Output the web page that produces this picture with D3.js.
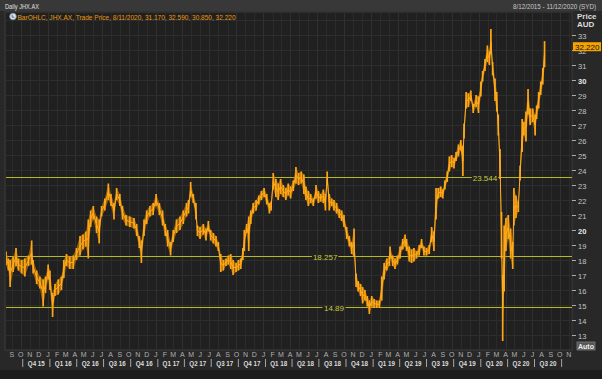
<!DOCTYPE html>
<html><head><meta charset="utf-8">
<script src="https://cdn.jsdelivr.net/npm/d3@7"></script>
<style>html,body{margin:0;padding:0;background:#262626;}svg{display:block;font-family:"Liberation Sans",Arial,sans-serif;}</style>
</head><body>
<svg id="c" width="602" height="379"></svg>
<script>
// ---- data ----
const priceDates = ["2015-08-12","2015-08-20","2015-08-26","2015-09-05","2015-09-15","2015-09-23","2015-10-04","2015-10-15","2015-10-27","2015-11-07","2015-11-12","2015-11-24","2015-12-05","2015-12-16","2015-12-24","2016-01-02","2016-01-08","2016-01-17","2016-01-25","2016-02-05","2016-02-16","2016-02-24","2016-03-04","2016-03-15","2016-03-27","2016-04-07","2016-04-19","2016-04-29","2016-05-09","2016-05-17","2016-05-25","2016-06-03","2016-06-14","2016-06-23","2016-07-01","2016-07-12","2016-07-24","2016-08-02","2016-08-12","2016-08-21","2016-09-01","2016-09-10","2016-09-22","2016-10-05","2016-10-19","2016-10-28","2016-11-06","2016-11-13","2016-11-22","2016-12-01","2016-12-12","2016-12-23","2017-01-02","2017-01-13","2017-01-24","2017-02-02","2017-02-10","2017-02-20","2017-03-01","2017-03-12","2017-03-24","2017-04-04","2017-04-15","2017-04-22","2017-04-29","2017-05-08","2017-05-17","2017-05-22","2017-05-31","2017-06-11","2017-06-20","2017-06-28","2017-07-06","2017-07-15","2017-07-24","2017-08-01","2017-08-09","2017-08-18","2017-08-27","2017-09-04","2017-09-12","2017-09-20","2017-09-30","2017-10-08","2017-10-16","2017-10-23","2017-10-28","2017-11-05","2017-11-12","2017-11-19","2017-11-27","2017-12-07","2017-12-16","2017-12-25","2018-01-03","2018-01-12","2018-01-21","2018-01-27","2018-02-03","2018-02-12","2018-02-20","2018-02-28","2018-03-09","2018-03-18","2018-03-26","2018-04-03","2018-04-12","2018-04-21","2018-04-30","2018-05-09","2018-05-18","2018-05-25","2018-06-02","2018-06-10","2018-06-19","2018-06-28","2018-07-06","2018-07-14","2018-07-23","2018-07-30","2018-08-05","2018-08-12","2018-08-20","2018-08-28","2018-09-06","2018-09-15","2018-09-23","2018-10-01","2018-10-10","2018-10-19","2018-10-27","2018-11-04","2018-11-11","2018-11-18","2018-11-26","2018-12-03","2018-12-11","2018-12-19","2018-12-26","2019-01-03","2019-01-11","2019-01-20","2019-01-29","2019-02-06","2019-02-14","2019-02-23","2019-03-04","2019-03-06","2019-03-15","2019-03-23","2019-03-31","2019-04-09","2019-04-18","2019-04-26","2019-05-01","2019-05-10","2019-05-18","2019-05-26","2019-06-04","2019-06-13","2019-06-21","2019-06-29","2019-07-08","2019-07-17","2019-07-25","2019-08-02","2019-08-09","2019-08-17","2019-08-25","2019-09-01","2019-09-08","2019-09-16","2019-09-23","2019-10-01","2019-10-09","2019-10-16","2019-10-24","2019-11-01","2019-11-08","2019-11-12","2019-11-19","2019-11-27","2019-12-05","2019-12-13","2019-12-23","2019-12-31","2020-01-08","2020-01-14","2020-01-22","2020-01-30","2020-02-06","2020-02-11","2020-02-17","2020-02-25","2020-03-02","2020-03-07","2020-03-13","2020-03-18","2020-03-22","2020-03-27","2020-04-02","2020-04-10","2020-04-18","2020-04-25","2020-04-29","2020-05-06","2020-05-14","2020-05-20","2020-05-27","2020-06-02","2020-06-09","2020-06-16","2020-06-23","2020-07-02","2020-07-10","2020-07-15","2020-07-22","2020-07-29","2020-08-05","2020-08-11"];
const priceHigh = [18.56,18.1,18.0,18.2,18.8,18.1,18.0,18.1,18.3,19.3,18.0,17.3,16.9,16.7,16.9,17.7,17.3,15.8,16.4,16.7,16.9,18.0,18.4,18.2,18.3,18.8,19.6,19.7,19.9,20.7,21.3,21.6,20.9,20.7,21.6,22.1,23.1,22.4,21.8,22.8,22.4,21.6,21.0,20.9,20.8,20.4,19.6,19.3,20.7,21.3,21.6,21.8,22.4,21.8,21.3,20.4,20.0,19.2,20.0,20.7,20.9,21.3,21.8,22.0,23.2,22.4,21.8,20.3,20.2,20.4,20.1,20.6,20.0,19.8,19.6,19.2,18.4,18.0,18.1,18.3,18.4,18.0,17.8,18.0,18.1,18.8,20.0,20.4,20.9,21.3,21.8,22.0,22.3,22.6,22.8,22.4,21.8,21.9,23.8,23.4,23.1,23.4,23.0,22.8,23.1,22.9,23.3,24.2,23.8,23.9,23.7,22.9,22.6,22.4,22.1,23.0,22.6,22.4,22.7,22.4,23.9,22.4,22.1,22.0,21.8,21.4,21.3,21.0,20.2,19.6,19.2,20.1,17.1,16.6,16.4,16.2,16.0,15.6,15.3,15.6,15.4,15.3,15.3,16.9,17.8,18.1,18.2,18.9,18.3,18.1,18.3,18.9,19.4,19.7,19.4,18.9,18.7,18.8,18.6,19.0,19.4,18.9,18.8,19.0,20.2,19.9,22.8,22.8,22.9,22.7,23.3,23.9,24.9,25.0,24.8,25.2,25.7,26.0,25.6,27.1,29.2,29.1,29.3,28.4,29.0,28.9,29.9,30.6,31.4,32.3,31.9,33.4,31.2,30.1,29.2,27.7,25.4,21.2,17.0,20.3,20.8,21.0,20.1,19.2,22.8,22.3,21.9,24.3,27.4,27.2,27.9,29.4,28.1,28.1,27.7,28.3,29.2,29.9,30.8,32.59];
const priceLow = [17.67,17.3,16.2,17.2,17.6,17.3,17.1,16.9,17.6,17.7,17.1,16.4,16.1,14.9,15.8,16.7,16.0,14.2,15.6,15.7,16.0,16.8,17.6,17.4,17.4,18.0,18.3,18.7,18.9,18.1,20.2,20.7,19.8,19.1,20.9,21.3,22.0,21.6,20.7,22.0,21.6,20.7,20.3,20.2,20.1,19.6,18.8,17.8,19.6,20.4,20.9,21.0,21.6,21.0,20.3,19.6,18.9,18.3,19.2,19.8,20.0,20.4,20.9,21.1,22.2,21.8,20.7,19.6,19.4,19.7,19.3,19.9,19.3,19.1,18.9,18.6,17.2,17.3,17.6,17.7,17.4,17.0,17.2,17.3,17.4,18.0,18.6,19.8,18.6,20.4,21.1,21.3,21.7,22.0,22.2,21.7,21.1,21.3,22.7,22.2,22.0,22.4,22.2,22.0,22.3,22.1,22.6,23.1,23.0,23.1,22.4,22.0,21.6,21.8,21.6,22.1,21.8,21.9,21.8,21.3,23.0,21.3,21.6,21.3,21.1,20.8,20.6,20.2,19.4,18.9,18.4,18.2,16.2,15.9,15.6,15.1,15.3,14.9,14.4,14.9,14.8,14.8,14.8,15.3,16.7,17.3,17.6,18.1,17.6,17.4,17.7,18.1,18.7,18.9,18.6,17.9,17.8,17.9,18.1,18.3,18.8,18.3,18.3,18.4,19.2,18.6,20.7,22.1,22.2,22.1,22.7,23.2,23.9,24.2,24.1,24.6,24.9,25.3,23.6,26.1,28.1,28.2,28.6,27.8,28.2,27.8,28.9,29.9,30.6,31.2,31.0,31.7,30.3,28.6,27.9,26.3,23.4,18.1,12.6,15.9,18.6,19.4,18.1,17.4,20.3,20.8,21.2,23.3,25.2,26.3,25.9,27.7,27.0,27.2,26.3,27.4,28.1,29.0,29.7,30.85];
const levelValues = [23.544, 18.257, 14.89];
const levelLabels = ["23.544", "18.257", "14.89"];
const levelLabelDates = ["2020-01-22", "2018-07-29", "2018-08-28"];
const yTicks = [13,14,15,16,17,18,19,20,21,22,23,24,25,26,27,28,29,30,31,32,33];
const monthLetters = ["J","F","M","A","M","J","J","A","S","O","N","D"];
const quarterNames = ["Q1","Q2","Q3","Q4"];
const lastPrice = 32.220;
const titleText = "Daily JHX.AX";
const rangeText = "8/12/2015 - 11/12/2020 (SYD)";
const legendText = "BarOHLC, JHX.AX, Trade Price, 8/11/2020, 31.170, 32.590, 30.850, 32.220";

// ---- drawing ----
const parse = d3.timeParse("%Y-%m-%d");
const data = priceDates.map((d,i)=>({date:parse(d), high:priceHigh[i], low:priceLow[i]}));
const svg = d3.select("#c");
const P = {x0:5, x1:572, y0:12, y1:350};
const x = d3.scaleTime().domain([new Date(2015,7,12), new Date(2020,10,12)]).range([6,572]);
const y = d3.scaleLinear().domain([13,33]).range([335,35]);

svg.append("rect").attr("width",602).attr("height",379).attr("fill","#282828");
svg.append("rect").attr("width",602).attr("height",11).attr("fill","#383838");
svg.append("rect").attr("x",0).attr("y",370).attr("width",602).attr("height",9).attr("fill","#1c1c1c");
svg.append("rect").attr("x",P.x0).attr("y",P.y0).attr("width",P.x1-P.x0).attr("height",P.y1-P.y0)
  .attr("fill","#202020").attr("stroke","#3c3c3c").attr("stroke-width",1);

svg.append("defs").append("clipPath").attr("id","clip").append("rect")
  .attr("x",P.x0+1).attr("y",P.y0+1).attr("width",P.x1-P.x0-1).attr("height",P.y1-P.y0-1);

const grid = svg.append("g").attr("clip-path","url(#clip)");
const months = d3.timeMonth.range(new Date(2015,8,1), new Date(2020,10,13));
grid.selectAll("line.v").data(months).join("line")
  .attr("x1",d=>Math.round(x(d))+0.5).attr("x2",d=>Math.round(x(d))+0.5)
  .attr("y1",P.y0).attr("y2",P.y1)
  .attr("stroke",d=>d.getMonth()%3===0?"#303030":"#2b2b2b").attr("stroke-width",1);
const hvals = d3.range(12,35);
grid.selectAll("line.h").data(hvals).join("line")
  .attr("x1",P.x0).attr("x2",P.x1)
  .attr("y1",d=>Math.round(y(d))+0.5).attr("y2",d=>Math.round(y(d))+0.5)
  .attr("stroke","#2d2d2d").attr("stroke-width",1);

// level lines
const lv = svg.append("g");
levelValues.forEach((v,i)=>{
  const yy = Math.round(y(v))+0.5;
  const cx = x(parse(levelLabelDates[i]));
  const half = levelLabels[i].length*1.7+3;
  lv.append("line").attr("x1",P.x0+1).attr("x2",cx-half).attr("y1",yy).attr("y2",yy).attr("stroke","#b8b820").attr("stroke-width",1);
  lv.append("line").attr("x1",cx+half).attr("x2",P.x1).attr("y1",yy).attr("y2",yy).attr("stroke","#b8b820").attr("stroke-width",1);
  lv.append("text").attr("x",cx).attr("y",yy+3).attr("text-anchor","middle")
    .attr("font-size",8).attr("fill","#c8c83c").text(levelLabels[i]);
});

// price series
const pg = svg.append("g").attr("clip-path","url(#clip)");
const area = d3.area().x(d=>x(d.date)).y0(d=>y(d.low)).y1(d=>y(d.high));
pg.append("path").datum(data).attr("d",area).attr("fill","#b87405").attr("opacity",0.75);
pg.selectAll("line.bar").data(data).join("line")
  .attr("x1",d=>x(d.date)).attr("x2",d=>x(d.date))
  .attr("y1",d=>y(d.high)).attr("y2",d=>y(d.low))
  .attr("stroke","#ffa514").attr("stroke-width",1.7);
const mid = d3.line().x(d=>x(d.date)).y(d=>y((d.high+d.low)/2));
pg.append("path").datum(data).attr("d",mid).attr("fill","none").attr("stroke","#ffae22").attr("stroke-width",1);

// right axis
const ra = svg.append("g");
yTicks.forEach(t=>{
  const yy = Math.round(y(t))+0.5;
  ra.append("line").attr("x1",P.x1).attr("x2",P.x1+4).attr("y1",yy).attr("y2",yy).attr("stroke","#aaaaaa");
  ra.append("text").attr("x",578).attr("y",yy+3).attr("font-size",7.5)
    .attr("font-weight",t%10===0?"bold":"normal")
    .attr("fill",t%10===0?"#e8e8e8":"#c4c4c4").text(t);
});
ra.append("text").attr("x",577).attr("y",19).attr("font-size",8).attr("font-weight","bold").attr("fill","#dcdcdc").text("Price");
ra.append("text").attr("x",577).attr("y",27).attr("font-size",8).attr("font-weight","bold").attr("fill","#dcdcdc").text("AUD");
const ly = y(lastPrice);
ra.append("rect").attr("x",573).attr("y",ly-4.5).attr("width",28).attr("height",9).attr("fill","#f5a300");
ra.append("text").attr("x",575).attr("y",ly+3).attr("font-size",8).attr("fill","#111").text(lastPrice.toFixed(3));
ra.append("rect").attr("x",577).attr("y",342).attr("width",18).attr("height",8).attr("fill","#555").attr("stroke","#888").attr("stroke-width",0.7);
ra.append("text").attr("x",586).attr("y",348.5).attr("text-anchor","middle").attr("font-size",7).attr("font-weight","bold").attr("fill","#f0f0f0").text("Auto");

// bottom axis
const ba = svg.append("g");
ba.selectAll("text.m").data(months).join("text")
  .attr("x",d=>x(d)).attr("y",357).attr("text-anchor","middle").attr("font-size",7)
  .attr("fill","#b0b0b0").text(d=>monthLetters[d.getMonth()]);
const qStarts = d3.timeMonth.every(3).range(new Date(2015,9,1), new Date(2020,9,2));
qStarts.forEach(q=>{
  const qx = x(q)+2;
  ba.append("line").attr("x1",qx).attr("x2",qx).attr("y1",359).attr("y2",367).attr("stroke","#c8c8c8").attr("stroke-width",0.8);
});
qStarts.slice(0,-1).forEach((q,i)=>{
  const qe = qStarts[i+1];
  const cx = (x(q)+x(qe))/2+2;
  const lbl = quarterNames[Math.floor(q.getMonth()/3)]+" "+String(q.getFullYear()).slice(2);
  ba.append("text").attr("x",cx).attr("y",366).attr("text-anchor","middle").attr("font-size",7.5)
    .attr("font-weight","bold").attr("fill","#dcdcdc")
    .attr("textLength",17).attr("lengthAdjust","spacingAndGlyphs").text(lbl);
});

// header
svg.append("text").attr("x",5).attr("y",9).attr("font-size",8).attr("fill","#e0e0e0")
  .attr("textLength",34).attr("lengthAdjust","spacingAndGlyphs").text(titleText);
svg.append("text").attr("x",513).attr("y",9).attr("font-size",8).attr("fill","#c8c8c8")
  .attr("textLength",83).attr("lengthAdjust","spacingAndGlyphs").text(rangeText);
svg.append("circle").attr("cx",13).attr("cy",16.5).attr("r",3.3).attr("fill","#dde4ee").attr("stroke","#7d8ea6").attr("stroke-width",0.8);
svg.append("path").attr("d","M12.2,14.8 L12.2,17.2 L14.4,17.2").attr("fill","none").attr("stroke","#445").attr("stroke-width",0.8);
svg.append("text").attr("x",17.5).attr("y",19.5).attr("font-size",8).attr("fill","#e89a10")
  .attr("textLength",218).attr("lengthAdjust","spacingAndGlyphs").text(legendText);
</script>
</body></html>
